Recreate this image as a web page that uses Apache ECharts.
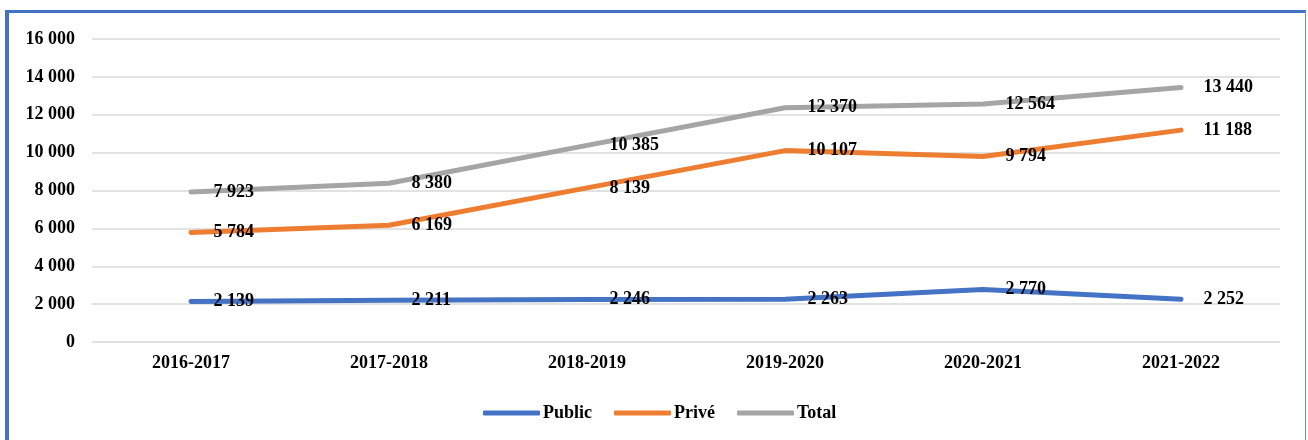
<!DOCTYPE html>
<html>
<head>
<meta charset="UTF-8">
<title>Public / Privé / Total</title>
<script src="https://cdn.jsdelivr.net/npm/echarts@6/dist/echarts.min.js"></script>
<style>
  html, body { margin: 0; padding: 0; background: #fff; }
  #wrap { position: relative; width: 1308px; height: 440px; overflow: hidden; }
  #chart { width: 1308px; height: 440px; }
  #frame {
    position: absolute; left: 5px; top: 10px; width: 1296px; height: 460px;
    border-top: 3px solid #4472c4; border-left: 4px solid #4472c4;
    border-right: 1px solid #6f8fd0; pointer-events: none;
  }
</style>
</head>
<body>
<div id="wrap">
  <div id="chart"></div>
  <div id="frame"></div>
</div>
<script type="text/javascript">
  // données
  var annees = ['2016-2017', '2017-2018', '2018-2019', '2019-2020', '2020-2021', '2021-2022'];
  var publicData = [2139, 2211, 2246, 2263, 2770, 2252];
  var priveData = [5784, 6169, 8139, 10107, 9794, 11188];
  var totalData = [7923, 8380, 10385, 12370, 12564, 13440];

  var FONT = '"Liberation Serif", "Times New Roman", serif';

  function fmt(v) {
    return String(v).replace(/\B(?=(\d{3})+(?!\d))/g, ' ');
  }

  function makeSeries(name, data, color) {
    return {
      name: name,
      type: 'line',
      data: data,
      symbol: 'circle',
      symbolSize: 1,
      showSymbol: true,
      lineStyle: { color: color, width: 5, cap: 'round', join: 'round' },
      itemStyle: { color: color },
      label: {
        show: true,
        position: 'right',
        distance: 22,
        fontFamily: FONT,
        fontWeight: 'bold',
        fontSize: 18,
        color: '#000',
        formatter: function (p) { return fmt(p.value); }
      },
      emphasis: { disabled: true }
    };
  }

  var myChart = echarts.init(document.getElementById('chart'));
  var option = {
    animation: false,
    grid: { left: 92, right: 28, top: 39, bottom: 98 },
    legend: {
      top: 399,
      left: 478,
      icon: 'roundRect',
      itemWidth: 57,
      itemHeight: 5,
      itemGap: 22,
      textStyle: { fontFamily: FONT, fontWeight: 'bold', fontSize: 18, color: '#000', padding: [0, 0, 0, -2] },
      data: ['Public', 'Privé', 'Total']
    },
    xAxis: {
      type: 'category',
      data: annees,
      boundaryGap: true,
      axisLine: { show: false },
      axisTick: { show: false },
      axisLabel: { margin: 12, fontFamily: FONT, fontWeight: 'bold', fontSize: 18, color: '#000' }
    },
    yAxis: {
      type: 'value',
      min: 0,
      max: 16000,
      interval: 2000,
      axisLine: { show: false },
      axisTick: { show: false },
      splitLine: { lineStyle: { color: '#d9d9d9', width: 1.5 } },
      axisLabel: {
        margin: 17,
        fontFamily: FONT, fontWeight: 'bold', fontSize: 18, color: '#000',
        formatter: function (v) { return fmt(v); }
      }
    },
    series: [
      makeSeries('Public', publicData, '#4472c4'),
      makeSeries('Privé', priveData, '#ed7d31'),
      makeSeries('Total', totalData, '#a5a5a5')
    ]
  };
  myChart.setOption(option);
</script>
</body>
</html>
